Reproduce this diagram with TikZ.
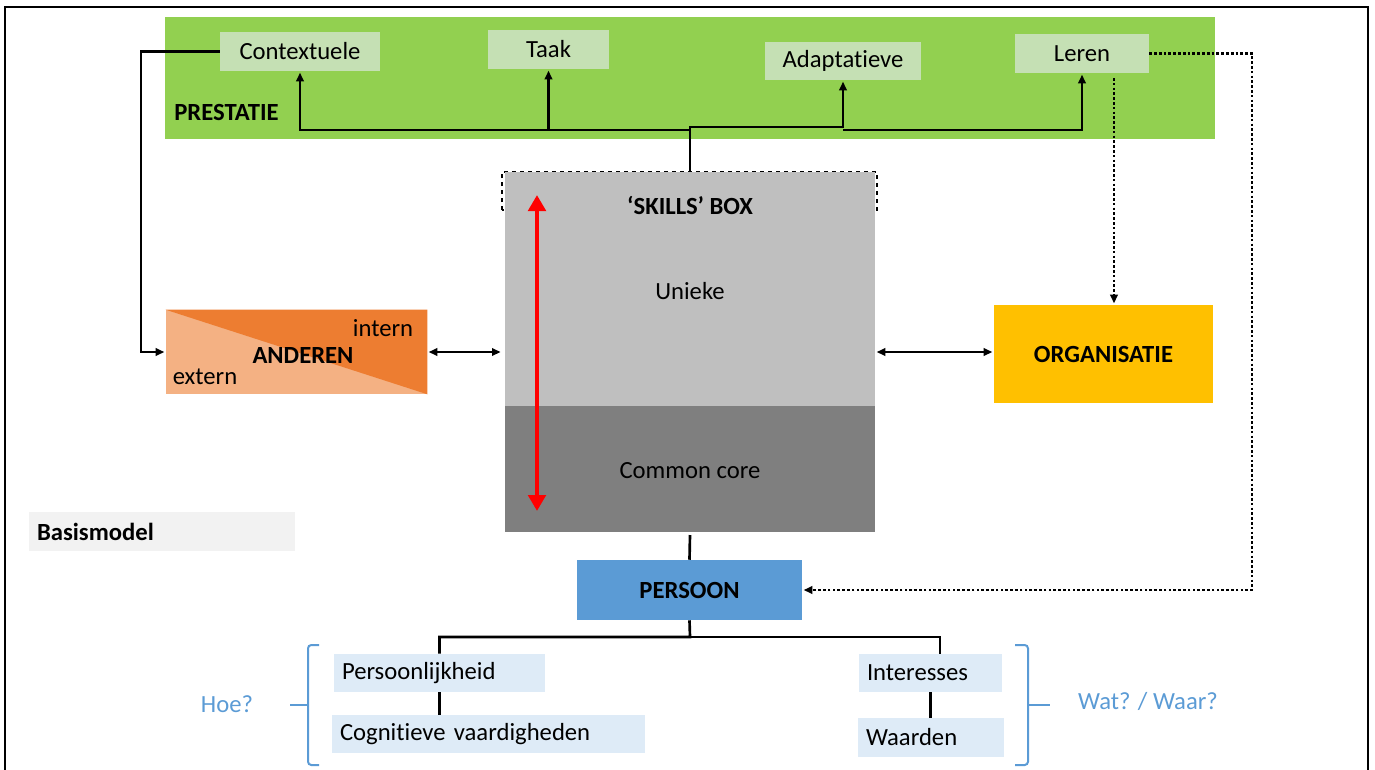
\documentclass[tikz,border=0pt]{standalone}
\usepackage{fontspec}
\setmainfont[Ligatures=NoCommon]{Carlito}
\usetikzlibrary{arrows.meta}

\definecolor{prestgreen}{RGB}{146,208,80}
\definecolor{subgreen}{RGB}{197,224,180}
\definecolor{anddark}{RGB}{237,125,49}
\definecolor{andlight}{RGB}{244,177,131}
\definecolor{skilllight}{RGB}{191,191,191}
\definecolor{skilldark}{RGB}{127,127,127}
\definecolor{orggold}{RGB}{255,192,0}
\definecolor{persblue}{RGB}{91,155,213}
\definecolor{traitblue}{RGB}{222,235,247}
\definecolor{basisgray}{RGB}{242,242,242}

\tikzset{
  lbl/.style={inner sep=0.75pt, font=\fontsize{18.5}{22}\selectfont},
  blbl/.style={lbl, font=\fontsize{18.5}{22}\selectfont\bfseries},
  subbox/.style={lbl, fill=subgreen, minimum height=29.25pt},
  trait/.style={lbl, fill=traitblue, align=left, inner xsep=6pt, minimum height=28.5pt},
  arr/.style={line width=2pt, -{Triangle[length=6.5pt,width=5.5pt]}, shorten >=1pt},
  darr/.style={line width=2pt, {Triangle[length=6.5pt,width=5.5pt]}-{Triangle[length=6.5pt,width=5.5pt]}, shorten >=1pt, shorten <=1pt},
  dotarr/.style={line width=2.2pt, dash pattern=on 2pt off 1.6pt, -{Triangle[length=6.5pt,width=5.5pt]}, shorten >=1pt},
  tree/.style={line width=2pt},
  brace/.style={draw=persblue, line width=1.5pt, rounded corners=2.5pt}
}

\begin{document}
\begin{tikzpicture}[x=0.75pt,y=0.75pt,yscale=-1,xscale=1]
        \useasboundingbox (0,0) rectangle (1375,769);
        \draw [line width=1.6pt] (5,780) -- (5,7) -- (1368,7) -- (1368,780);

        \node [fill=prestgreen, minimum width=787.5pt, minimum height=91.5pt, inner sep=0pt] (prest) at (690,78) {};
        \node [blbl, anchor=west] (prestlbl) at (173,112) {PRESTATIE};
        \node [subbox, minimum width=120pt] (cont) at (300,51.5) {Contextuele};
        \node [subbox, minimum width=90.75pt] (taak) at (548.5,49.5) {Taak};
        \node [subbox, minimum width=117pt, minimum height=28.5pt] (adapt) at (843,61) {Adaptatieve};
        \node [subbox, minimum width=100.5pt] (leren) at (1082,53.5) {Leren};

        \draw [line width=1pt, dashed] (502,210) -- (502,172) -- (877,172) -- (877,210) -- cycle;
        \node [fill=skilllight, minimum width=277.5pt, minimum height=270pt, inner sep=0pt] (skills) at (690,352) {};
        \fill [skilldark] (505,406) rectangle (skills.south east);
        \node [blbl] (skillslbl) at (690,205) {‘SKILLS’ BOX};
        \node [lbl] (unieke) at (690,291) {Unieke};
        \node [lbl] (common) at (690,471) {Common core};
        \draw [red, line width=3.5pt, {Triangle[length=12pt,width=13pt]}-{Triangle[length=12pt,width=13pt]}] (537,195) -- (537,511);

        \node [fill=andlight, minimum width=195.75pt, minimum height=63pt, inner sep=0pt] (anderen) at (296.5,352) {};
        \fill [anddark] (anderen.north west) -- (anderen.north east) -- (anderen.south east) -- cycle;
        \node [blbl] (andlbl) at (303,355) {ANDEREN};
        \node [lbl] (intern) at (383,328) {intern};
        \node [lbl] (extern) at (205,377) {extern};

        \node [blbl, fill=orggold, minimum width=164.25pt, minimum height=73.5pt] (org) at (1103.5,354) {ORGANISATIE};
        \node [blbl, fill=persblue, minimum width=168.75pt, minimum height=45pt] (persoon) at (689.5,590) {PERSOON};
        \node [blbl, fill=basisgray, align=left, text width=187.5pt, inner xsep=6pt, minimum height=29.25pt] (basis) at (162,531.5) {Basismodel};

        \node [trait, text width=146.25pt] (pers) at (439.5,673) {Persoonlijkheid};
        \node [trait, text width=222.75pt] (cogn) at (488.5,734) {Cognitieve vaardigheden};
        \node [trait, text width=95.25pt] (inter) at (930.5,673) {Interesses};
        \node [trait, text width=97.5pt, minimum height=29.25pt] (waard) at (931,737.5) {Waarden};

        \node [lbl, text=persblue] (hoe) at (227,704) {Hoe?};
        \node [lbl, text=persblue] (watwaar) at (1148,701) {Wat? / Waar?};

        \coordinate (tl) at (690,130);
        \draw [arr] (tl) -| (cont.south);
        \draw [arr] (taak.south |- tl) -- (taak.south);
        \draw [arr] (skills.north) -- (690,127) -| (adapt.south);
        \draw [arr] (843,130) -| (leren.south);
        \draw [arr] (cont.west) -- (141,51.5) |- (anderen.west);
        \draw [darr] (anderen.east) -- (502,352);
        \draw [darr] (skills.east) -- (skills.east -| org.west);

        \coordinate (lv) at (1114,78);
        \draw [dotarr] (lv) -- (lv |- org.north);
        \draw [dotarr] (leren.east) -- (1252,53.5) |- (persoon.east);

        \draw [tree] (690,535) -- (persoon.north);
        \draw [tree] (persoon.south) -- (690,637) -| (pers.north);
        \draw [tree] (690,637) -| (940,654);
        \draw [tree] (pers.south) -- (pers.south |- cogn.north);
        \draw [tree] (inter.south) -- (inter.south |- waard.north);

        \draw [brace] (319,645) -- (308,645) -- (308,765) -- (319,765);
        \draw [brace] (308,705) -- (290,705);
        \draw [brace] (1015,645) -- (1028,645) -- (1028,765) -- (1015,765);
        \draw [brace] (1028,705) -- (1050,705);
\end{tikzpicture}
\end{document}
